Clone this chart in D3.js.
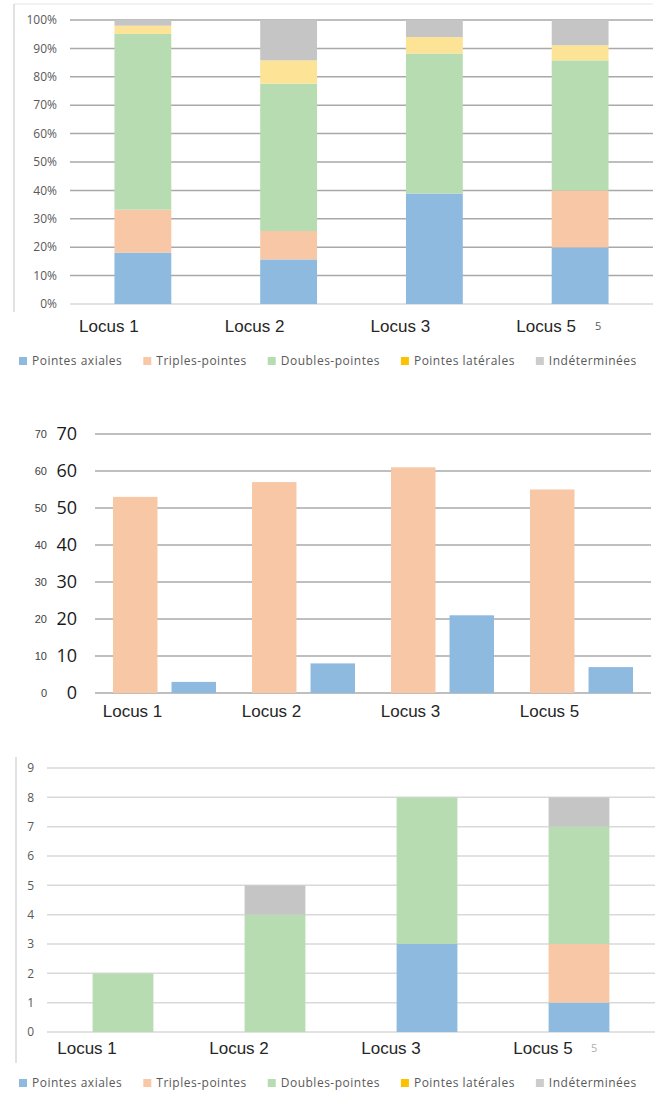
<!DOCTYPE html>
<html>
<head>
<meta charset="utf-8">
<script src="https://cdn.jsdelivr.net/npm/d3@7"></script>
<style>
  body { margin: 0; background: #fff; }
  svg { display: block; }
  .tick-label { font-family: "Open Sans", sans-serif; font-size: 12px; fill: #595959; }
  .cat-label { font-family: "Liberation Sans", Arial, sans-serif; font-size: 17px; fill: #262626; }
  .legend-text { font-family: "Open Sans", sans-serif; font-size: 12px; letter-spacing: 0.5px; fill: #595959; }
</style>
</head>
<body>
<svg id="chart" width="657" height="1093"></svg>
<script>
// categories
var loci = ["Locus 1", "Locus 2", "Locus 3", "Locus 5"];
var typeKeys = ["axiales", "triples", "doubles", "laterales", "indet"];
var typeNames = ["Pointes axiales", "Triples-pointes", "Doubles-pointes", "Pointes latérales", "Indéterminées"];

// chart 1 : percentages
var pctAxiales   = [18.1, 15.7, 38.9, 19.9];
var pctTriples   = [15.1, 10.0, 0, 20.1];
var pctDoubles   = [61.9, 51.9, 49.3, 45.8];
var pctLaterales = [2.9, 8.2, 5.8, 5.3];
var pctIndet     = [2.0, 14.2, 6.0, 8.9];
var pctTicks = [0, 10, 20, 30, 40, 50, 60, 70, 80, 90, 100];

// chart 2 : counts
var countTriples = [53, 57, 61, 55];
var countAxiales = [3, 8, 21, 7];
var countTicks = [0, 10, 20, 30, 40, 50, 60, 70];

// chart 3 : counts
var nAxiales   = [0, 0, 3, 1];
var nTriples   = [0, 0, 0, 2];
var nDoubles   = [2, 4, 5, 4];
var nLaterales = [0, 0, 0, 0];
var nIndet     = [0, 1, 0, 1];
var nTicks = [0, 1, 2, 3, 4, 5, 6, 7, 8, 9];

var barColor = { axiales: "#8ebae0", triples: "#f8c7a5", doubles: "#b8dcb1", laterales: "#fde396", indet: "#c6c5c6" };
var legendColor = { axiales: "#8ebae0", triples: "#f8c7a5", doubles: "#b8dcb1", laterales: "#ffc000", indet: "#cccccc" };

var svg = d3.select("#chart");

function table(series) {
  return loci.map(function(l, i) {
    var row = { locus: l };
    typeKeys.forEach(function(k, j) { row[k] = series[j][i]; });
    return row;
  });
}

function stackedChart(opt) {
  var g = svg.append("g");
  var x = d3.scaleBand().domain(loci).range([opt.x0, opt.x1]).paddingInner(0).paddingOuter(0);
  var y = d3.scaleLinear().domain([0, opt.max]).range([opt.yBase, opt.yTop]);

  // frame
  if (opt.frameTop !== undefined) {
    g.append("line").attr("x1", opt.frameX).attr("x2", 653)
      .attr("y1", opt.frameTop).attr("y2", opt.frameTop)
      .attr("stroke", "#e6e6e6").attr("stroke-width", 1);
  }
  g.append("line").attr("x1", opt.frameX).attr("x2", opt.frameX)
    .attr("y1", opt.frameY0).attr("y2", opt.frameY1)
    .attr("stroke", "#d9d9d9").attr("stroke-width", 1.5);

  // grid
  g.selectAll(".grid").data(opt.ticks).enter().append("line")
    .attr("x1", opt.x0).attr("x2", opt.x1)
    .attr("y1", function(d) { return y(d); }).attr("y2", function(d) { return y(d); })
    .attr("stroke", function(d) { return d === 0 ? "#d9d9d9" : opt.gridColor; })
    .attr("stroke-width", 1.5);

  g.selectAll(".ytick").data(opt.ticks).enter().append("text")
    .attr("class", "tick-label")
    .attr("x", opt.tickX).attr("y", function(d) { return y(d); })
    .attr("dy", "0.35em").attr("text-anchor", "end")
    .text(opt.fmt);

  var stack = d3.stack().keys(typeKeys)(table(opt.series));
  var bw = x.bandwidth() * opt.barFrac;
  g.selectAll(".layer").data(stack).enter().append("g")
      .attr("fill", function(d) { return barColor[d.key]; })
    .selectAll("rect").data(function(d) { return d; }).enter().append("rect")
      .attr("x", function(d) { return x(d.data.locus) + (x.bandwidth() - bw) / 2; })
      .attr("width", bw)
      .attr("y", function(d) { return y(d[1]); })
      .attr("height", function(d) { return Math.max(0, y(d[0]) - y(d[1])); });

  g.selectAll(".cat").data(loci).enter().append("text")
    .attr("class", "cat-label")
    .attr("x", function(d) { return x(d) + x.bandwidth() / 2 + opt.labelShift; })
    .attr("y", opt.labelY).attr("text-anchor", "middle")
    .text(function(d) { return d; });

  g.append("text").attr("class", "tick-label")
    .attr("x", opt.noteX).attr("y", opt.labelY - 2)
    .style("font-size", "11px").style("fill", opt.noteColor)
    .text("5");
}

// legend items laid out one after the other
function legend(yc) {
  var lg = svg.append("g").attr("transform", "translate(0," + yc + ")");
  var cx = 19;
  typeKeys.forEach(function(k, i) {
    lg.append("rect").attr("x", cx).attr("y", -4).attr("width", 8).attr("height", 8)
      .attr("fill", legendColor[k]);
    var t = lg.append("text").attr("class", "legend-text")
      .attr("x", cx + 13).attr("dy", "0.35em")
      .text(typeNames[i]);
    cx = cx + 13 + t.node().getComputedTextLength() + 21;
  });
}

// ---- chart 1 : 100% stacked
stackedChart({
  x0: 70, x1: 653, yBase: 304, yTop: 20, max: 100,
  ticks: pctTicks, fmt: function(d) { return d + "%"; }, tickX: 57,
  series: [pctAxiales, pctTriples, pctDoubles, pctLaterales, pctIndet],
  barFrac: 0.39, gridColor: "#a9a9a9",
  labelShift: -34, labelY: 332,
  frameX: 14, frameTop: 4, frameY0: 4, frameY1: 312,
  noteX: 595, noteColor: "#595959"
});
legend(361);

// ---- chart 2 : grouped counts
(function() {
  var g = svg.append("g");
  var x0 = d3.scaleBand().domain(loci).range([95, 651]);
  var x1 = d3.scaleBand().domain(["triples", "axiales"]).range([18, 121]).paddingInner(0.24);
  var y = d3.scaleLinear().domain([0, 70]).range([693, 434]);
  var data = loci.map(function(l, i) { return { locus: l, triples: countTriples[i], axiales: countAxiales[i] }; });

  g.selectAll(".grid").data(countTicks).enter().append("line")
    .attr("x1", 95).attr("x2", 651)
    .attr("y1", function(d) { return y(d); }).attr("y2", function(d) { return y(d); })
    .attr("stroke", "#bfbfbf").attr("stroke-width", 2);

  g.selectAll(".small").data(countTicks).enter().append("text")
    .attr("x", 47).attr("y", function(d) { return y(d); }).attr("dy", "0.35em")
    .attr("text-anchor", "end")
    .style("font-family", "Liberation Sans, Arial, sans-serif").style("font-size", "11px").style("fill", "#404040")
    .text(function(d) { return d; });
  g.selectAll(".big").data(countTicks).enter().append("text")
    .attr("x", 77).attr("y", function(d) { return y(d); }).attr("dy", "0.36em")
    .attr("text-anchor", "end")
    .style("font-family", "Open Sans, sans-serif").style("font-size", "18px").style("fill", "#1a1a1a")
    .text(function(d) { return d; });

  var grp = g.selectAll(".grp").data(data).enter().append("g")
    .attr("transform", function(d) { return "translate(" + x0(d.locus) + ",0)"; });
  grp.selectAll("rect").data(function(d) { return ["triples", "axiales"].map(function(k) { return { key: k, value: d[k] }; }); })
    .enter().append("rect")
      .attr("x", function(d) { return x1(d.key); })
      .attr("width", x1.bandwidth())
      .attr("y", function(d) { return y(d.value); })
      .attr("height", function(d) { return y(0) - y(d.value); })
      .attr("fill", function(d) { return barColor[d.key]; });

  g.selectAll(".cat").data(loci).enter().append("text")
    .attr("class", "cat-label")
    .attr("x", function(d) { return x0(d) + x0.bandwidth() / 2 - 32; })
    .attr("y", 717).attr("text-anchor", "middle")
    .text(function(d) { return d; });
})();

// ---- chart 3 : stacked counts
stackedChart({
  x0: 47, x1: 655, yBase: 1032, yTop: 768, max: 9,
  ticks: nTicks, fmt: function(d) { return d; }, tickX: 34,
  series: [nAxiales, nTriples, nDoubles, nLaterales, nIndet],
  barFrac: 0.4, gridColor: "#d9d9d9",
  labelShift: -36, labelY: 1054,
  frameX: 16, frameY0: 757, frameY1: 1063,
  noteX: 591, noteColor: "#b0b0b0"
});
legend(1083);
</script>
</body>
</html>
